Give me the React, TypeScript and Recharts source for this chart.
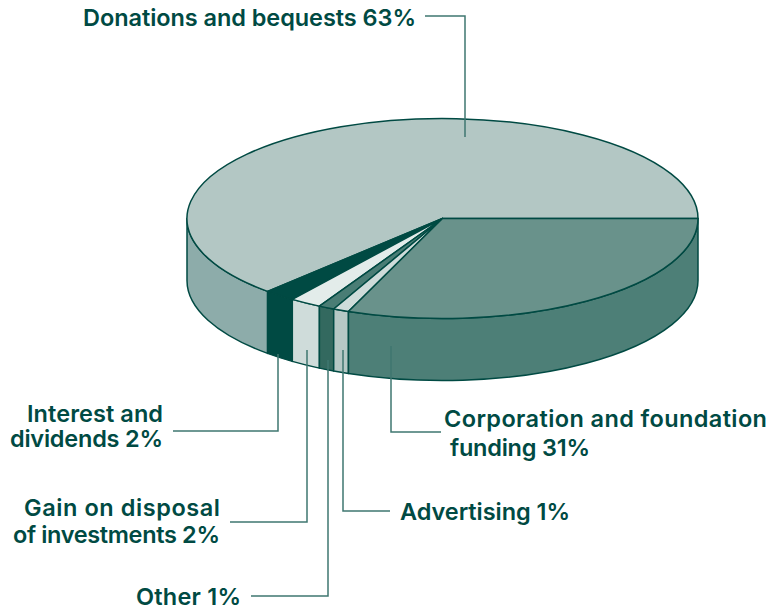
import React from 'react';
import { PieChart, Pie } from 'recharts';

const categories = ['Donations and bequests', 'Interest and dividends', 'Gain on disposal of investments', 'Other', 'Advertising', 'Corporation and foundation funding'];
const shares = [63, 2, 2, 1, 1, 31];
const topColors = ['#b3c7c4', '#004a43', '#e3ecea', '#4a7d75', '#cfdcda', '#69928b'];
const sideColors = ['#8dacaa', '#004a43', '#cfdcda', '#33695f', '#b5c8c5', '#4d7f77'];

const data = categories.map((name, i) => ({ name, value: shares[i], fill: topColors[i], side: sideColors[i] }));

const INK = '#004a43';
const LEADER = '#3f7770';
const SQUASH = 100 / 255.5;
const DEPTH = 62;

// annotation layout, same order as categories
const labelLines = [
  [{ text: 'Donations and bequests 63%', x: 83, y: 26, w: 333 }],
  [
    { text: 'Interest and', x: 27, y: 422, w: 136 },
    { text: 'dividends 2%', x: 10, y: 447, w: 153 },
  ],
  [
    { text: 'Gain on disposal', x: 24, y: 516, w: 196 },
    { text: 'of investments 2%', x: 13, y: 543, w: 207 },
  ],
  [{ text: 'Other 1%', x: 136, y: 605, w: 105 }],
  [{ text: 'Advertising 1%', x: 400, y: 520, w: 170 }],
  [
    { text: 'Corporation and foundation', x: 444, y: 427, w: 323 },
    { text: 'funding 31%', x: 450, y: 456, w: 140 },
  ],
];

const leaders = [
  '425,16 465,16 465,137',
  '173,431 278,431 278,354',
  '230,522 307,522 307,350',
  '251,596 328,596 328,360',
  '390,511 343,511 343,350',
  '441,432 391,432 391,346',
];

function Slice3D(props: any) {
  const { cx, cy, outerRadius, startAngle, endAngle, fill, payload } = props;
  const rx = outerRadius;
  const ry = outerRadius * SQUASH;
  const pt = (deg: number, dy = 0) => {
    const t = (deg * Math.PI) / 180;
    return `${cx + rx * Math.cos(t)} ${cy - ry * Math.sin(t) + dy}`;
  };
  const large = endAngle - startAngle > 180 ? 1 : 0;
  const a1 = Math.max(startAngle, 180);
  const a2 = Math.min(endAngle, 360);
  const top = `M${cx} ${cy} L${pt(startAngle)} A${rx} ${ry} 0 ${large} 0 ${pt(endAngle)} Z`;
  const side = `M${pt(a1)} A${rx} ${ry} 0 0 0 ${pt(a2)} L${pt(a2, DEPTH)} A${rx} ${ry} 0 0 1 ${pt(a1, DEPTH)} Z`;
  return (
    <g>
      {a2 > a1 && <path d={side} fill={payload.side} stroke={INK} strokeWidth={1.5} strokeLinejoin="round" />}
      <path d={top} fill={fill} stroke={INK} strokeWidth={1.5} strokeLinejoin="round" />
    </g>
  );
}

function SliceLabel({ index }: any) {
  return (
    <g>
      <polyline points={leaders[index]} fill="none" stroke={LEADER} strokeWidth={1.5} />
      {labelLines[index].map((l) => (
        <text
          key={l.text}
          x={l.x}
          y={l.y}
          textLength={l.w}
          lengthAdjust="spacing"
          fill={INK}
          fontFamily="Inter, sans-serif"
          fontWeight={600}
          fontSize={23.5}
        >
          {l.text}
        </text>
      ))}
    </g>
  );
}

export default function App() {
  return (
    <div style={{ position: 'absolute', left: 0, top: 0, width: 773, height: 614, background: '#fff' }}>
      <PieChart width={773} height={614} margin={{ top: 0, right: 0, bottom: 0, left: 0 }}>
        <Pie
          data={data}
          dataKey="value"
          nameKey="name"
          cx={442.5}
          cy={218.5}
          innerRadius={0}
          outerRadius={255.5}
          startAngle={0}
          endAngle={360}
          paddingAngle={0}
          shape={Slice3D}
          label={SliceLabel}
          labelLine={false}
          isAnimationActive={false}
        />
      </PieChart>
    </div>
  );
}
